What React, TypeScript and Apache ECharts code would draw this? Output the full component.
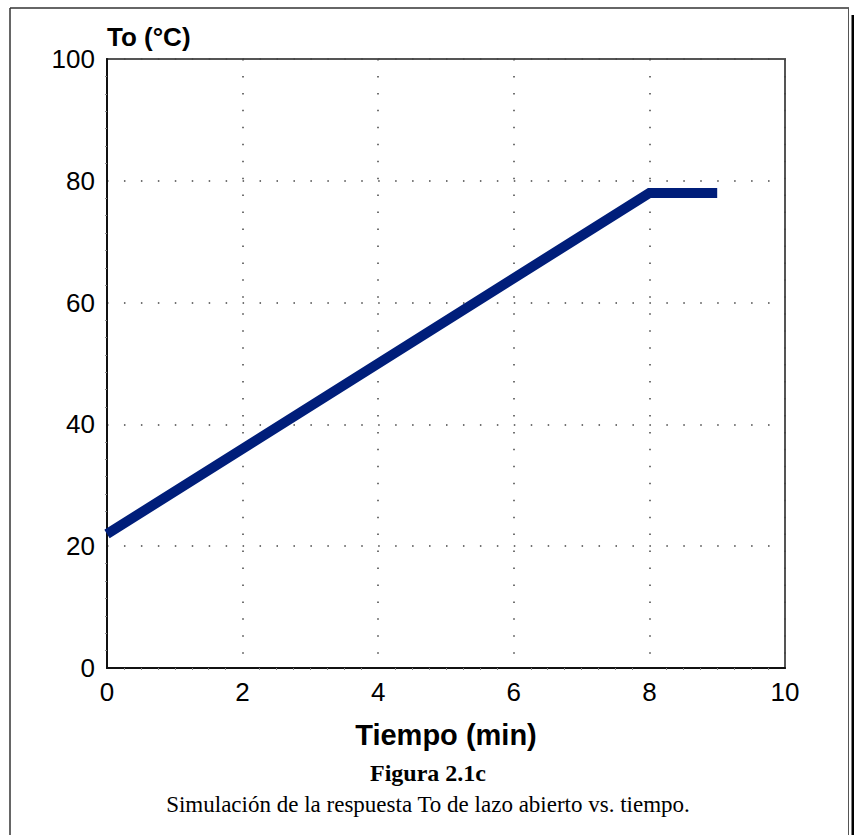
import React, { useEffect, useRef } from "react";
import * as echarts from "echarts";

const timeMin: number[] = [0, 8, 9];
const tempC: number[] = [22, 78, 78];
const xTicks: number[] = [0, 2, 4, 6, 8, 10];
const yTicks: number[] = [0, 20, 40, 60, 80, 100];
const yTitle = "To (°C)";
const xTitle = "Tiempo (min)";
const figTitle = "Figura 2.1c";
const figCaption = "Simulación de la respuesta To de lazo abierto vs. tiempo.";

export default function App() {
  const ref = useRef<HTMLDivElement>(null);
  useEffect(() => {
    if (!ref.current) return;
    const chart = echarts.init(ref.current, undefined, { renderer: "svg" });
    const gl = 107, gt = 59, gw = 678, gh = 609;
    const sans = "'Liberation Sans', Arial, sans-serif";
    const serif = "'Liberation Serif', 'Times New Roman', serif";
    const dotted = { type: [1.5, 15.45] as any, color: "#444", width: 1.5 };
    chart.setOption({
      animation: false,
      backgroundColor: "#ffffff",
      grid: {
        left: gl, top: gt, width: gw, height: gh,
        show: true, borderColor: "#555", borderWidth: 2, backgroundColor: "transparent",
      },
      xAxis: {
        type: "value",
        min: xTicks[0], max: xTicks[xTicks.length - 1], interval: 2,
        axisLine: { show: true, onZero: false, lineStyle: { color: "#111", width: 2 } },
        axisTick: { show: false },
        minorTick: { show: true, splitNumber: 8, length: 2, lineStyle: { color: "#888" } },
        splitLine: { show: true, lineStyle: dotted },
        axisLabel: { fontFamily: sans, fontSize: 26, color: "#000", margin: 11,
          formatter: (v: number) => String(v) },
        name: xTitle, nameLocation: "middle", nameGap: 52,
        nameTextStyle: { fontFamily: sans, fontSize: 29, fontWeight: "bold", color: "#000" },
      },
      yAxis: {
        type: "value",
        min: yTicks[0], max: yTicks[yTicks.length - 1], interval: 20,
        axisLine: { show: true, onZero: false, lineStyle: { color: "#111", width: 2 } },
        axisTick: { show: false },
        minorTick: { show: true, splitNumber: 7, length: 2, lineStyle: { color: "#888" } },
        splitLine: { show: true, lineStyle: dotted },
        axisLabel: { fontFamily: sans, fontSize: 26, color: "#000", margin: 12 },
        name: yTitle, nameLocation: "end", nameGap: 9,
        nameTextStyle: { fontFamily: sans, fontSize: 26, fontWeight: "bold", color: "#000",
          align: "left", verticalAlign: "bottom", padding: [0, 0, 0, 0] },
      },
      series: [
        {
          type: "line",
          data: timeMin.map((t, i) => [t, tempC[i]]),
          symbol: "none",
          lineStyle: { color: "#001e7a", width: 10, join: "miter" },
          clip: false,
        },
      ],
      graphic: [
        { type: "line", shape: { x1: 10, y1: 8, x2: 10, y2: 835 }, style: { stroke: "#333", lineWidth: 1.5 } },
        { type: "line", shape: { x1: 10, y1: 8, x2: 849, y2: 8 }, style: { stroke: "#333", lineWidth: 1.5 } },
        { type: "line", shape: { x1: 848.5, y1: 8, x2: 848.5, y2: 835 }, style: { stroke: "#555", lineWidth: 1 } },
        { type: "rect", shape: { x: 851.5, y: 15, width: 3, height: 820 }, style: { fill: "#000" } },
        {
          type: "text", x: 428, y: 773,
          style: { text: figTitle, font: `bold 24px ${serif}`, fill: "#000", align: "center", verticalAlign: "middle" },
        },
        {
          type: "text", x: 428, y: 804,
          style: { text: figCaption, font: `23px ${serif}`, fill: "#000", align: "center", verticalAlign: "middle" },
        },
      ],
    });
    return () => chart.dispose();
  }, []);
  return (
    <div
      ref={ref}
      style={{ position: "absolute", left: 0, top: 0, width: 854, height: 835 }}
    />
  );
}
